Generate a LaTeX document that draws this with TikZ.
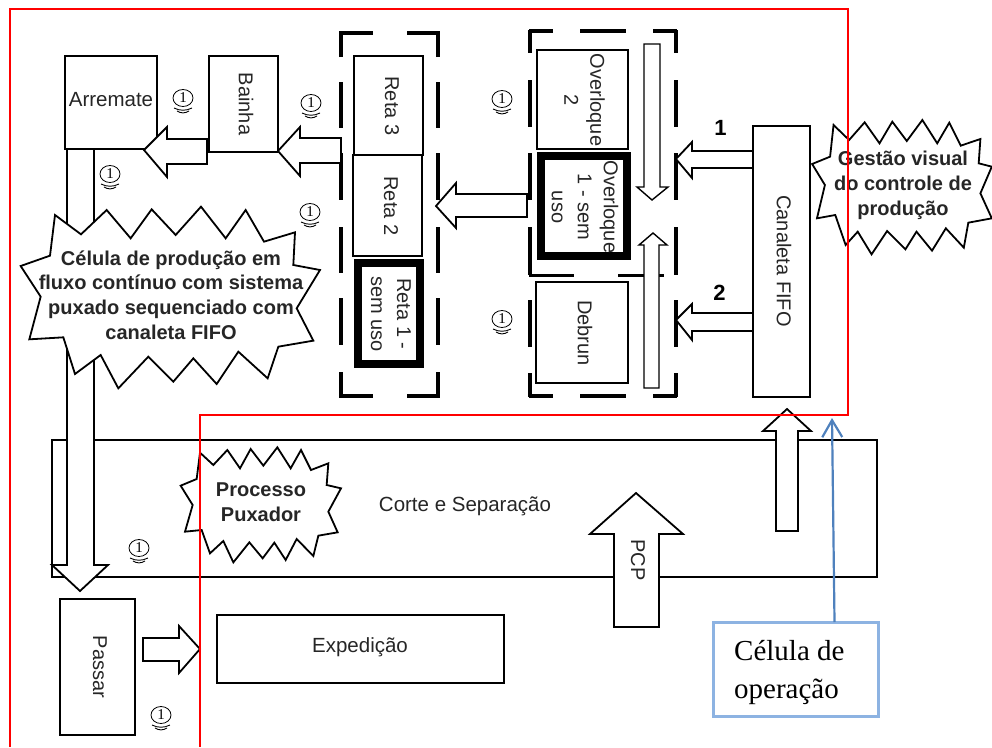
\documentclass[tikz,border=0pt]{standalone}
\usepackage{fontspec}
\setmainfont{Liberation Sans}
\newfontfamily\timesf{Liberation Serif}
\usetikzlibrary{arrows.meta,shapes.geometric}
\definecolor{boxblue}{HTML}{8DB3E2}
\definecolor{arrowblue}{HTML}{4F81BD}
\tikzset{
  plainbox/.style={draw=black,fill=white,line width=1.8pt,inner sep=0pt,outer sep=0pt},
  thickbox/.style={draw=black,fill=white,line width=8pt,inner sep=0pt,outer sep=0pt},
  lab/.style={font=\fontsize{20.5}{26}\selectfont,align=center,inner sep=0pt,text=black!85},
  vlab/.style={lab,rotate=-90,font=\fontsize{20}{26}\selectfont},
  boldlab/.style={font=\fontsize{20}{24.6}\selectfont\bfseries,align=center,inner sep=0pt,text=black!85},
  blockarrow/.style={draw=black,fill=white,line width=1.8pt,line join=miter},
  burst/.style={draw=black,fill=white,line width=1.8pt,line join=miter},
  thickdash/.style={draw=black,line width=4pt},
  redline/.style={draw=red,line width=1.8pt},
  onec/.style={ellipse,draw=black,line width=.8pt,inner sep=0pt,minimum width=20pt,minimum height=17pt,font=\timesf\fontsize{15}{15}\selectfont},
}
\newcommand{\onemark}[3]{%
  \node[onec] (#1) at (#2,#3) {1};
  \draw[line width=.9pt] ([xshift=-9pt,yshift=-10pt]#1.center) .. controls ([xshift=-3pt,yshift=-13pt]#1.center) and ([xshift=3pt,yshift=-13pt]#1.center) .. ([xshift=9pt,yshift=-10pt]#1.center);
  \draw[line width=.9pt] ([xshift=-6pt,yshift=-13pt]#1.center) .. controls ([xshift=-2pt,yshift=-15.5pt]#1.center) and ([xshift=2pt,yshift=-15.5pt]#1.center) .. ([xshift=6pt,yshift=-13pt]#1.center);
}
\begin{document}
\begin{tikzpicture}[x=1pt,y=-1pt]
\useasboundingbox (0,0) rectangle (992,747);

% Corte e Separacao
\node[plainbox,minimum width=825pt,minimum height=137pt] (corte) at (464.5,508.5) {};
\node[lab] (cortet) at (465,506) {Corte e Separação};

% long arrow down from Arremate
\draw[blockarrow] (67,149) -- (67,565) -- (52,565) -- (80,591) -- (108,565) -- (94,565) -- (94,149) -- cycle;

% upward arrows
\draw[blockarrow] (776,531) -- (776,431) -- (763,431) -- (787,409) -- (811,431) -- (798,431) -- (798,531) -- cycle;
\draw[blockarrow] (614,627) -- (614,534) -- (590,534) -- (636,493) -- (683,534) -- (659,534) -- (659,627) -- cycle;
\node[lab,rotate=-90,font=\fontsize{20}{26}\selectfont] (pcp) at (638,560) {PCP};

% Boxes
\node[plainbox,minimum width=92pt,minimum height=93pt] (arremate) at (111,102.5) {};
\node[lab] (arrematet) at (111,100) {Arremate};
\node[plainbox,minimum width=69pt,minimum height=96pt] (bainha) at (243.5,104) {};
\node[vlab] (bainhat) at (246,104) {Bainha};
\node[plainbox,minimum width=69pt,minimum height=99pt] (reta3) at (388.5,105.5) {};
\node[vlab] (reta3t) at (392,106) {Reta 3};
\node[plainbox,minimum width=69pt,minimum height=101pt] (reta2) at (387.5,205.5) {};
\node[vlab] (reta2t) at (391,206) {Reta 2};
\node[thickbox,minimum width=62pt,minimum height=101pt] (reta1) at (389,313.5) {};
\node[vlab] (reta1t) at (391,314) {Reta 1 -\\sem uso};

\node[plainbox,minimum width=91pt,minimum height=99pt] (over2) at (582.5,99.5) {};
\node[vlab] (over2t) at (584.5,100) {Overloque\\2};
\node[thickbox,minimum width=86pt,minimum height=100pt] (over1) at (584,206) {};
\node[vlab] (over1t) at (585,207) {Overloque\\1 - sem\\uso};
\node[plainbox,minimum width=92pt,minimum height=101pt] (debrun) at (582,332.5) {};
\node[vlab] (debrunt) at (585,333) {Debrun};
\node[plainbox,minimum width=57pt,minimum height=271pt] (fifo) at (781.5,261.5) {};
\node[vlab] (fifot) at (784,261) {Canaleta FIFO};
\node[plainbox,minimum width=75pt,minimum height=136pt] (passar) at (97.5,667) {};
\node[vlab] (passart) at (100,667) {Passar};
\node[plainbox,minimum width=287pt,minimum height=68pt] (exped) at (360.5,649) {};
\node[lab] (expedt) at (360,647) {Expedição};

% Dashed frames
\foreach \xx in {341,438}{
  \draw[thickdash] (\xx,57) -- (\xx,32);
  \draw[thickdash] (\xx,82) -- (\xx,128);
  \draw[thickdash] (\xx,153) -- (\xx,200);
  \draw[thickdash] (\xx,227) -- (\xx,273);
  \draw[thickdash] (\xx,298) -- (\xx,345);
  \draw[thickdash] (\xx,372) -- (\xx,397);
}
\foreach \yy in {33,396}{
  \draw[thickdash] (339,\yy) -- (373,\yy);
  \draw[thickdash] (407,\yy) -- (440,\yy);
}
\foreach \xx in {530,676}{
  \draw[thickdash] (\xx,30) -- (\xx,53);
  \draw[thickdash] (\xx,80) -- (\xx,127);
  \draw[thickdash] (\xx,153) -- (\xx,200);
  \draw[thickdash] (\xx,227) -- (\xx,275);
  \draw[thickdash] (\xx,300) -- (\xx,347);
  \draw[thickdash] (\xx,373) -- (\xx,397);
}
\foreach \yy in {31,396}{
  \draw[thickdash] (529,\yy) -- (553,\yy);
  \draw[thickdash] (580,\yy) -- (626,\yy);
  \draw[thickdash] (653,\yy) -- (677,\yy);
}
\draw[draw=black,line width=3pt] (529,275) -- (574,275);
\draw[draw=black,line width=3pt] (618,275) -- (664,275);

% Horizontal block arrows
\draw[blockarrow] (207,139) -- (167,139) -- (167,127) -- (144,150) -- (167,177) -- (167,164) -- (207,164) -- cycle;
\draw[blockarrow] (341,138) -- (300,138) -- (300,127) -- (278,151) -- (300,176) -- (300,163) -- (341,163) -- cycle;
\draw[blockarrow] (527,194) -- (456,194) -- (456,183) -- (436,206) -- (456,228) -- (456,217) -- (527,217) -- cycle;
\draw[blockarrow] (753,151) -- (692,151) -- (692,142) -- (676,159) -- (692,178) -- (692,168) -- (753,168) -- cycle;
\draw[blockarrow] (753,313) -- (692,313) -- (692,304) -- (676,320) -- (692,340) -- (692,331) -- (753,331) -- cycle;
\draw[blockarrow] (143,638) -- (179,638) -- (179,626) -- (200,649) -- (179,673) -- (179,661) -- (143,661) -- cycle;

% Vertical thin arrows in the frame
\draw[blockarrow,line width=1.4pt] (644,44) -- (644,187) -- (637,187) -- (652,200) -- (668,187) -- (660,187) -- (660,44) -- cycle;
\draw[blockarrow,line width=1.4pt] (644,388) -- (644,245) -- (639,245) -- (653,233) -- (667,245) -- (659,245) -- (659,388) -- cycle;

% Bursts
\begin{scope}[x=.33333pt,y=-.33333pt]
\draw[burst] (165,645)--(243,703)--(320,630)--(392,715)--(455,628)--(527,705)--(603,620)--(677,715)--(737,630)--(792,725)--(885,697)--(880,795)--(960,810)--(890,925)--(940,1022)--(835,1040)--(803,1135)--(715,1055)--(650,1152)--(580,1075)--(520,1145)--(445,1070)--(355,1165)--(302,1065)--(225,1122)--(190,1012)--(88,1018)--(122,890)--(62,798)--(150,767)--cycle;
\end{scope}
\node[boldlab] (burst1t) at (171,295) {Célula de produção em\\fluxo contínuo com sistema\\puxado sequenciado com\\canaleta FIFO};

\begin{scope}[shift={(450,0)},x=.34554pt,y=-.33333pt]
\draw[burst] (1110,375)--(1155,420)--(1200,367)--(1243,430)--(1280,365)--(1322,423)--(1367,360)--(1410,430)--(1445,368)--(1478,437)--(1535,417)--(1530,490)--(1568,500)--(1535,580)--(1568,655)--(1500,668)--(1487,743)--(1435,685)--(1395,752)--(1350,695)--(1318,748)--(1265,693)--(1220,763)--(1180,695)--(1145,735)--(1115,645)--(1062,655)--(1085,555)--(1048,492)--(1100,470)--cycle;
\end{scope}
\node[boldlab,font=\fontsize{20}{25}\selectfont\bfseries] (burst2t) at (903,185) {Gestão visual\\do controle de\\produção};

\begin{scope}[shift={(0,400)},x=.33333pt,y=-.33333pt]
\draw[burst] (600,158)--(640,195)--(682,150)--(720,205)--(752,147)--(790,197)--(832,142)--(872,205)--(903,150)--(933,210)--(985,190)--(980,255)--(1023,265)--(985,335)--(1013,397)--(955,407)--(940,468)--(890,417)--(857,480)--(823,428)--(788,475)--(748,427)--(700,487)--(670,423)--(630,460)--(605,390)--(555,395)--(578,315)--(542,257)--(590,237)--cycle;
\end{scope}
\node[boldlab,font=\fontsize{20}{25}\selectfont\bfseries] (burst3t) at (261,502.5) {Processo\\Puxador};

% Numbers
\node[font=\fontsize{22}{22}\selectfont\bfseries,inner sep=0pt] (n1) at (720.5,128) {1};
\node[font=\fontsize{22}{22}\selectfont\bfseries,inner sep=0pt] (n2) at (719.5,293) {2};

% Operator marks
\onemark{a}{183}{98}
\onemark{b}{311}{103}
\onemark{c}{110}{174}
\onemark{d}{310}{212}
\onemark{e}{502}{99}
\onemark{f}{502}{319}
\onemark{g}{139}{548}
\onemark{h}{161}{715}

% Red outline
\draw[redline,line join=miter] (10,747) -- (10,9) -- (848,9) -- (848,415) -- (200,415) -- (200,747);

% Celula de operacao
\node[draw=boxblue,fill=white,line width=3pt,minimum width=165pt,minimum height=94pt,inner sep=0pt,outer sep=0pt] (celula) at (795.5,669) {};
\node[font=\timesf\fontsize{29}{38}\selectfont,align=left,inner sep=0pt,anchor=west] (celulat) at (734,672) {Célula de\\operação};
\coordinate (celend) at (832,418);
\draw[draw=arrowblue,line width=2.2pt,-{Straight Barb[length=17pt,width=20pt,line width=2.2pt]}] (celula.north -| 834.5,0) -- (celend);
\end{tikzpicture}
\end{document}
